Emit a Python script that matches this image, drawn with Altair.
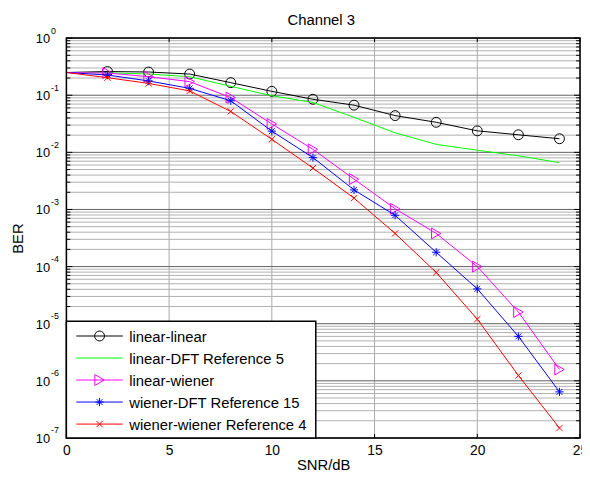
import altair as alt
import pandas as pd

# ---------------- data ----------------
snr = [0, 2, 4, 6, 8, 10, 12, 14, 16, 18, 20, 22, 24]
series_names = ["linear-linear", "linear-DFT Reference 5", "linear-wiener",
                "wiener-DFT Reference 15", "wiener-wiener Reference 4"]
ber_linear_linear = [0.25, 0.26, 0.255, 0.235, 0.166, 0.117, 0.085, 0.067, 0.044, 0.0336, 0.0238, 0.0203, 0.0173]
ber_linear_dft = [0.25, 0.248, 0.235, 0.211, 0.143, 0.098, 0.0747, 0.041, 0.022, 0.0138, 0.0109, 0.0087, 0.0066]
ber_linear_wiener = [0.25, 0.245, 0.211, 0.173, 0.091, 0.0314, 0.0113, 0.0034, 0.00103, 3.8e-4, 1.0e-4, 1.6e-5, 1.58e-6]
ber_wiener_dft = [0.25, 0.226, 0.178, 0.132, 0.080, 0.0235, 0.0081, 0.0022, 7.9e-4, 1.78e-4, 4.07e-5, 6.0e-6, 6.4e-7]
ber_wiener_wiener = [0.25, 0.203, 0.161, 0.119, 0.052, 0.0169, 0.0053, 0.00158, 3.8e-4, 7.9e-5, 1.2e-5, 1.24e-6, 1.49e-7]
series_values = [ber_linear_linear, ber_linear_dft, ber_linear_wiener, ber_wiener_dft, ber_wiener_wiener]

x_ticks = [0, 5, 10, 15, 20, 25]
y_exponents = [0, -1, -2, -3, -4, -5, -6, -7]
title_text = "Channel 3"

# ---------------- styles ----------------
colors = ["#000000", "#00ff00", "#ff00ff", "#0000ff", "#ff0000"]
ASTERISK = "M-1,0L1,0M0,-1L0,1M-0.7,-0.7L0.7,0.7M-0.7,0.7L0.7,-0.7"
XMARK = "M-1,-1L1,1M-1,1L1,-1"
shapes = ["circle", None, "triangle-right", ASTERISK, XMARK]
sizes = [100, 0, 120, 70, 40]

FONT = "Liberation Sans"
W, H = 519, 404

x_scale = alt.Scale(domain=[0, 25], nice=False)


def yscale():
    return alt.Scale(type="log", domain=[1e-7, 1], nice=False)


x_axis = alt.Axis(values=x_ticks, title="SNR/dB", ticks=False, domain=False, grid=False,
                  labelFontSize=14, labelPadding=6, labelFont=FONT, labelColor="black",
                  labelFlush=False, format="d",
                  titleFontSize=15, titleFontWeight="normal", titleFont=FONT, titleColor="black",
                  titleY=31.5, titleBaseline="alphabetic")


def X(field):
    return alt.X(field, type="quantitative", scale=x_scale, axis=x_axis)


# ---------------- grid ----------------
minor_vals = [m * 10.0 ** k for k in range(-7, 0) for m in range(2, 10)]
major_vals = [10.0 ** e for e in y_exponents]
df_minor = pd.DataFrame({"v": minor_vals})
df_major = pd.DataFrame({"v": major_vals})
df_xgrid = pd.DataFrame({"v": x_ticks})

layers = []

layers.append(alt.Chart(df_xgrid).mark_rule(color="#a8a8a8", strokeWidth=1).encode(x=X("v")))

layers.append(alt.Chart(df_minor).mark_rule(color="#b0b0b0", strokeWidth=1).encode(
    y=alt.Y("v:Q", scale=yscale(),
            axis=alt.Axis(title="BER", labels=False, ticks=False, domain=False, grid=False,
                          titleX=-44, titleY=H / 2, titleAngle=270, titleBaseline="alphabetic",
                          titleAlign="center", titleFontSize=15, titleFontWeight="normal",
                          titleFont=FONT, titleColor="black"))))
layers.append(alt.Chart(df_major).mark_rule(color="#606060", strokeWidth=1).encode(
    y=alt.Y("v:Q", scale=yscale(), axis=None)))

# inward ticks
for vals, ln in ((df_minor, 4), (df_major, 6)):
    layers.append(alt.Chart(vals).mark_rule(color="black", strokeWidth=1).encode(
        y=alt.Y("v:Q", scale=yscale(), axis=None), x=alt.value(0), x2=alt.value(ln)))
    layers.append(alt.Chart(vals).mark_rule(color="black", strokeWidth=1).encode(
        y=alt.Y("v:Q", scale=yscale(), axis=None), x=alt.value(W), x2=alt.value(W - ln)))
layers.append(alt.Chart(df_xgrid).mark_rule(color="black", strokeWidth=1).encode(
    x=X("v"), y=alt.value(H), y2=alt.value(H - 4)))
layers.append(alt.Chart(df_xgrid).mark_rule(color="black", strokeWidth=1).encode(
    x=X("v"), y=alt.value(0), y2=alt.value(4)))

# ---------------- data series ----------------
for name, vals, col, shp, sz in zip(series_names, series_values, colors, shapes, sizes):
    df = pd.DataFrame({"snr": snr, "ber": vals})
    layers.append(alt.Chart(df).mark_line(color=col, strokeWidth=1).encode(
        x=X("snr"), y=alt.Y("ber:Q", scale=yscale(), axis=None)))
    if shp is not None:
        dfp = df[df["snr"] >= 2]
        layers.append(alt.Chart(dfp).mark_point(shape=shp, size=sz, filled=False, color=col,
                                                strokeWidth=1, opacity=1).encode(
            x=X("snr"), y=alt.Y("ber:Q", scale=yscale(), axis=None)))

# frame
df_one = pd.DataFrame({"a": [0]})
layers.append(alt.Chart(df_one).mark_rect(fillOpacity=0, stroke="black", strokeWidth=1.5).encode(
    x=alt.value(0), x2=alt.value(W), y=alt.value(0), y2=alt.value(H)))

# title
df_title = pd.DataFrame({"t": [title_text]})
layers.append(alt.Chart(df_title).mark_text(align="center", baseline="alphabetic", font=FONT,
                                            fontSize=15, color="black").encode(
    x=alt.value(W / 2 - 2), y=alt.value(-13.5), text="t:N"))

# ---------------- legend ----------------
layers.append(alt.Chart(df_one).mark_rect(fill="white", stroke="black", strokeWidth=1.5).encode(
    x=alt.value(0), x2=alt.value(252), y=alt.value(286), y2=alt.value(H)))

leg_y = lambda: alt.Y("name:N", scale=alt.Scale(type="point", domain=series_names,
                                                 range=[301, 390], padding=0), axis=None)
df_leg = pd.DataFrame({"name": series_names})
for name, col, shp, sz in zip(series_names, colors, shapes, sizes):
    d = df_leg[df_leg["name"] == name]
    layers.append(alt.Chart(d).mark_rule(color=col, strokeWidth=1).encode(
        y=leg_y(), x=alt.value(10), x2=alt.value(57)))
    if shp is not None:
        layers.append(alt.Chart(d).mark_point(shape=shp, size=sz, filled=False, color=col,
                                              strokeWidth=1, opacity=1).encode(
            y=leg_y(), x=alt.value(33.5)))
layers.append(alt.Chart(df_leg).mark_text(align="left", baseline="middle", font=FONT,
                                          fontSize=15, color="black", dy=1).encode(
    y=leg_y(), x=alt.value(63.5), text="name:N"))

# ---------------- y tick labels (10^k) ----------------
df_ylab = pd.DataFrame({"val": major_vals, "base": ["10"] * len(y_exponents),
                        "sup": [str(e) for e in y_exponents]})
layers.append(alt.Chart(df_ylab).mark_text(align="right", baseline="alphabetic", font=FONT,
                                           fontSize=13, color="black", dy=5).encode(
    y=alt.Y("val:Q", scale=yscale(), axis=None), x=alt.value(-16.5), text="base:N"))
layers.append(alt.Chart(df_ylab).mark_text(align="left", baseline="alphabetic", font=FONT,
                                           fontSize=9, color="black", dy=-4.5).encode(
    y=alt.Y("val:Q", scale=yscale(), axis=None), x=alt.value(-15.5), text="sup:N"))

chart = alt.layer(*layers).resolve_scale(y="independent").properties(
    width=W, height=H,
    autosize=alt.AutoSizeParams(type="none"),
    padding={"left": 59, "top": 28, "right": 2, "bottom": 33},
).configure_view(stroke=None).configure(background="white")

chart.save("out.html", embed_options={"renderer": "svg", "actions": False})
